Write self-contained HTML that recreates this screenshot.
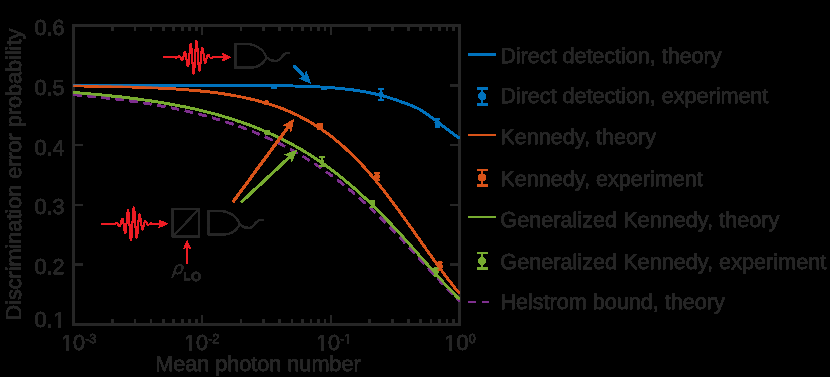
<!DOCTYPE html>
<html><head><meta charset="utf-8"><style>
html,body{margin:0;padding:0;background:#000;}
body{width:830px;height:377px;position:relative;overflow:hidden;}
svg{position:absolute;left:0;top:0;display:block;}
</style></head><body>
<svg width="830" height="377" viewBox="0 0 830 377">
<defs><filter id="thr" x="0" y="0" width="830" height="377" filterUnits="userSpaceOnUse" color-interpolation-filters="sRGB"><feComponentTransfer><feFuncA type="linear" slope="255" intercept="-47.17"/></feComponentTransfer></filter>
<filter id="thrc" x="0" y="0" width="830" height="377" filterUnits="userSpaceOnUse" color-interpolation-filters="sRGB"><feComponentTransfer><feFuncA type="linear" slope="255" intercept="-20.40"/></feComponentTransfer></filter>
<filter id="thrt" x="0" y="0" width="830" height="377" filterUnits="userSpaceOnUse" color-interpolation-filters="sRGB"><feComponentTransfer><feFuncA type="linear" slope="255" intercept="-38.25"/></feComponentTransfer></filter></defs>
<g filter="url(#thr)">
<rect x="72" y="24" width="3" height="302" fill="#262626" shape-rendering="crispEdges"/>
<rect x="458" y="24" width="3" height="302" fill="#262626" shape-rendering="crispEdges"/>
<rect x="72" y="24" width="389" height="3" fill="#262626" shape-rendering="crispEdges"/>
<rect x="72" y="323" width="389" height="3" fill="#262626" shape-rendering="crispEdges"/>
<path d="M112.23,324.5 v-5.5 M112.23,25.5 v5.5 M134.89,324.5 v-5.5 M134.89,25.5 v5.5 M150.97,324.5 v-5.5 M150.97,25.5 v5.5 M163.43,324.5 v-5.5 M163.43,25.5 v5.5 M173.62,324.5 v-5.5 M173.62,25.5 v5.5 M182.24,324.5 v-5.5 M182.24,25.5 v5.5 M189.70,324.5 v-5.5 M189.70,25.5 v5.5 M196.28,324.5 v-5.5 M196.28,25.5 v5.5 M202.17,324.5 v-9.5 M202.17,25.5 v9.5 M240.90,324.5 v-5.5 M240.90,25.5 v5.5 M263.56,324.5 v-5.5 M263.56,25.5 v5.5 M279.63,324.5 v-5.5 M279.63,25.5 v5.5 M292.10,324.5 v-5.5 M292.10,25.5 v5.5 M302.29,324.5 v-5.5 M302.29,25.5 v5.5 M310.90,324.5 v-5.5 M310.90,25.5 v5.5 M318.36,324.5 v-5.5 M318.36,25.5 v5.5 M324.95,324.5 v-5.5 M324.95,25.5 v5.5 M330.83,324.5 v-9.5 M330.83,25.5 v9.5 M369.57,324.5 v-5.5 M369.57,25.5 v5.5 M392.22,324.5 v-5.5 M392.22,25.5 v5.5 M408.30,324.5 v-5.5 M408.30,25.5 v5.5 M420.77,324.5 v-5.5 M420.77,25.5 v5.5 M430.96,324.5 v-5.5 M430.96,25.5 v5.5 M439.57,324.5 v-5.5 M439.57,25.5 v5.5 M447.03,324.5 v-5.5 M447.03,25.5 v5.5 M453.61,324.5 v-5.5 M453.61,25.5 v5.5 M73.5,264.70 h9.5 M459.5,264.70 h-9.5 M73.5,204.90 h9.5 M459.5,204.90 h-9.5 M73.5,145.10 h9.5 M459.5,145.10 h-9.5 M73.5,85.30 h9.5 M459.5,85.30 h-9.5" stroke="#262626" stroke-width="2" fill="none"/>
</g>
<g filter="url(#thrc)" fill="none" stroke-linejoin="round">
<path d="M73.50,85.30 L74.14,85.30 L74.79,85.30 L75.43,85.30 L76.08,85.30 L76.72,85.30 L77.37,85.30 L78.01,85.30 L78.66,85.30 L79.30,85.30 L79.94,85.30 L80.59,85.30 L81.23,85.30 L81.88,85.30 L82.52,85.30 L83.17,85.30 L83.81,85.30 L84.45,85.30 L85.10,85.30 L85.74,85.30 L86.39,85.30 L87.03,85.30 L87.68,85.30 L88.32,85.30 L88.97,85.30 L89.61,85.30 L90.25,85.30 L90.90,85.30 L91.54,85.30 L92.19,85.30 L92.83,85.30 L93.48,85.30 L94.12,85.30 L94.77,85.30 L95.41,85.30 L96.05,85.30 L96.70,85.30 L97.34,85.30 L97.99,85.30 L98.63,85.30 L99.28,85.30 L99.92,85.30 L100.57,85.30 L101.21,85.30 L101.85,85.30 L102.50,85.30 L103.14,85.30 L103.79,85.30 L104.43,85.30 L105.08,85.30 L105.72,85.30 L106.36,85.30 L107.01,85.30 L107.65,85.30 L108.30,85.30 L108.94,85.30 L109.59,85.30 L110.23,85.30 L110.88,85.30 L111.52,85.30 L112.16,85.30 L112.81,85.30 L113.45,85.30 L114.10,85.30 L114.74,85.30 L115.39,85.30 L116.03,85.30 L116.68,85.30 L117.32,85.30 L117.96,85.30 L118.61,85.30 L119.25,85.30 L119.90,85.30 L120.54,85.30 L121.19,85.30 L121.83,85.30 L122.47,85.30 L123.12,85.30 L123.76,85.30 L124.41,85.30 L125.05,85.30 L125.70,85.30 L126.34,85.30 L126.99,85.30 L127.63,85.30 L128.27,85.30 L128.92,85.30 L129.56,85.30 L130.21,85.30 L130.85,85.30 L131.50,85.30 L132.14,85.30 L132.79,85.30 L133.43,85.30 L134.07,85.30 L134.72,85.30 L135.36,85.30 L136.01,85.30 L136.65,85.30 L137.30,85.30 L137.94,85.30 L138.59,85.30 L139.23,85.30 L139.87,85.30 L140.52,85.30 L141.16,85.30 L141.81,85.30 L142.45,85.30 L143.10,85.30 L143.74,85.30 L144.38,85.30 L145.03,85.30 L145.67,85.30 L146.32,85.30 L146.96,85.30 L147.61,85.30 L148.25,85.30 L148.90,85.30 L149.54,85.30 L150.18,85.30 L150.83,85.30 L151.47,85.30 L152.12,85.30 L152.76,85.31 L153.41,85.31 L154.05,85.31 L154.70,85.31 L155.34,85.31 L155.98,85.31 L156.63,85.31 L157.27,85.31 L157.92,85.31 L158.56,85.31 L159.21,85.31 L159.85,85.31 L160.49,85.31 L161.14,85.31 L161.78,85.31 L162.43,85.31 L163.07,85.31 L163.72,85.31 L164.36,85.31 L165.01,85.31 L165.65,85.31 L166.29,85.31 L166.94,85.31 L167.58,85.31 L168.23,85.31 L168.87,85.31 L169.52,85.31 L170.16,85.31 L170.81,85.31 L171.45,85.31 L172.09,85.31 L172.74,85.31 L173.38,85.31 L174.03,85.31 L174.67,85.31 L175.32,85.31 L175.96,85.31 L176.61,85.31 L177.25,85.31 L177.89,85.31 L178.54,85.31 L179.18,85.31 L179.83,85.31 L180.47,85.31 L181.12,85.31 L181.76,85.31 L182.40,85.31 L183.05,85.31 L183.69,85.32 L184.34,85.32 L184.98,85.32 L185.63,85.32 L186.27,85.32 L186.92,85.32 L187.56,85.32 L188.20,85.32 L188.85,85.32 L189.49,85.32 L190.14,85.32 L190.78,85.32 L191.43,85.32 L192.07,85.32 L192.72,85.32 L193.36,85.32 L194.00,85.32 L194.65,85.32 L195.29,85.32 L195.94,85.32 L196.58,85.32 L197.23,85.32 L197.87,85.33 L198.52,85.33 L199.16,85.33 L199.80,85.33 L200.45,85.33 L201.09,85.33 L201.74,85.33 L202.38,85.33 L203.03,85.33 L203.67,85.33 L204.31,85.33 L204.96,85.33 L205.60,85.33 L206.25,85.33 L206.89,85.33 L207.54,85.34 L208.18,85.34 L208.83,85.34 L209.47,85.34 L210.11,85.34 L210.76,85.34 L211.40,85.34 L212.05,85.34 L212.69,85.34 L213.34,85.34 L213.98,85.34 L214.63,85.35 L215.27,85.35 L215.91,85.35 L216.56,85.35 L217.20,85.35 L217.85,85.35 L218.49,85.35 L219.14,85.35 L219.78,85.35 L220.42,85.36 L221.07,85.36 L221.71,85.36 L222.36,85.36 L223.00,85.36 L223.65,85.36 L224.29,85.36 L224.94,85.37 L225.58,85.37 L226.22,85.37 L226.87,85.37 L227.51,85.37 L228.16,85.37 L228.80,85.37 L229.45,85.38 L230.09,85.38 L230.74,85.38 L231.38,85.38 L232.02,85.38 L232.67,85.39 L233.31,85.39 L233.96,85.39 L234.60,85.39 L235.25,85.39 L235.89,85.40 L236.54,85.40 L237.18,85.40 L237.82,85.40 L238.47,85.40 L239.11,85.41 L239.76,85.41 L240.40,85.41 L241.05,85.41 L241.69,85.42 L242.33,85.42 L242.98,85.42 L243.62,85.43 L244.27,85.43 L244.91,85.43 L245.56,85.43 L246.20,85.44 L246.85,85.44 L247.49,85.44 L248.13,85.45 L248.78,85.45 L249.42,85.45 L250.07,85.46 L250.71,85.46 L251.36,85.46 L252.00,85.47 L252.65,85.47 L253.29,85.48 L253.93,85.48 L254.58,85.48 L255.22,85.49 L255.87,85.49 L256.51,85.50 L257.16,85.50 L257.80,85.50 L258.44,85.51 L259.09,85.51 L259.73,85.52 L260.38,85.52 L261.02,85.53 L261.67,85.53 L262.31,85.54 L262.96,85.54 L263.60,85.55 L264.24,85.56 L264.89,85.56 L265.53,85.57 L266.18,85.57 L266.82,85.58 L267.47,85.59 L268.11,85.59 L268.76,85.60 L269.40,85.61 L270.04,85.61 L270.69,85.62 L271.33,85.63 L271.98,85.63 L272.62,85.64 L273.27,85.65 L273.91,85.66 L274.56,85.66 L275.20,85.67 L275.84,85.68 L276.49,85.69 L277.13,85.70 L277.78,85.71 L278.42,85.72 L279.07,85.73 L279.71,85.73 L280.35,85.74 L281.00,85.75 L281.64,85.76 L282.29,85.77 L282.93,85.78 L283.58,85.80 L284.22,85.81 L284.87,85.82 L285.51,85.83 L286.15,85.84 L286.80,85.85 L287.44,85.86 L288.09,85.88 L288.73,85.89 L289.38,85.90 L290.02,85.92 L290.67,85.93 L291.31,85.94 L291.95,85.96 L292.60,85.97 L293.24,85.99 L293.89,86.00 L294.53,86.02 L295.18,86.03 L295.82,86.05 L296.46,86.06 L297.11,86.08 L297.75,86.10 L298.40,86.12 L299.04,86.13 L299.69,86.15 L300.33,86.17 L300.98,86.19 L301.62,86.21 L302.26,86.23 L302.91,86.25 L303.55,86.27 L304.20,86.29 L304.84,86.31 L305.49,86.33 L306.13,86.35 L306.78,86.38 L307.42,86.40 L308.06,86.42 L308.71,86.45 L309.35,86.47 L310.00,86.50 L310.64,86.52 L311.29,86.55 L311.93,86.58 L312.58,86.60 L313.22,86.63 L313.86,86.66 L314.51,86.69 L315.15,86.72 L315.80,86.75 L316.44,86.78 L317.09,86.81 L317.73,86.84 L318.37,86.87 L319.02,86.91 L319.66,86.94 L320.31,86.98 L320.95,87.01 L321.60,87.05 L322.24,87.08 L322.89,87.12 L323.53,87.16 L324.17,87.20 L324.82,87.24 L325.46,87.28 L326.11,87.32 L326.75,87.36 L327.40,87.40 L328.04,87.45 L328.69,87.49 L329.33,87.54 L329.97,87.58 L330.62,87.63 L331.26,87.68 L331.91,87.72 L332.55,87.77 L333.20,87.82 L333.84,87.88 L334.48,87.93 L335.13,87.98 L335.77,88.04 L336.42,88.09 L337.06,88.15 L337.71,88.21 L338.35,88.26 L339.00,88.32 L339.64,88.39 L340.28,88.45 L340.93,88.51 L341.57,88.57 L342.22,88.64 L342.86,88.71 L343.51,88.77 L344.15,88.84 L344.80,88.91 L345.44,88.98 L346.08,89.06 L346.73,89.13 L347.37,89.21 L348.02,89.28 L348.66,89.36 L349.31,89.44 L349.95,89.52 L350.60,89.60 L351.24,89.69 L351.88,89.77 L352.53,89.86 L353.17,89.95 L353.82,90.04 L354.46,90.13 L355.11,90.22 L355.75,90.31 L356.39,90.41 L357.04,90.50 L357.68,90.60 L358.33,90.70 L358.97,90.81 L359.62,90.91 L360.26,91.01 L360.91,91.12 L361.55,91.23 L362.19,91.34 L362.84,91.45 L363.48,91.57 L364.13,91.68 L364.77,91.80 L365.42,91.92 L366.06,92.04 L366.71,92.16 L367.35,92.29 L367.99,92.42 L368.64,92.54 L369.28,92.67 L369.93,92.81 L370.57,92.94 L371.22,93.08 L371.86,93.22 L372.51,93.36 L373.15,93.50 L373.79,93.64 L374.44,93.79 L375.08,93.94 L375.73,94.09 L376.37,94.24 L377.02,94.40 L377.66,94.55 L378.30,94.71 L378.95,94.87 L379.59,95.04 L380.24,95.20 L380.88,95.37 L381.53,95.54 L382.17,95.71 L382.82,95.89 L383.46,96.06 L384.10,96.24 L384.75,96.42 L385.39,96.60 L386.04,96.79 L386.68,96.98 L387.33,97.17 L387.97,97.36 L388.62,97.55 L389.26,97.75 L389.90,97.94 L390.55,98.14 L391.19,98.35 L391.84,98.55 L392.48,98.76 L393.13,98.97 L393.77,99.18 L394.41,99.39 L395.06,99.61 L395.70,99.82 L396.35,100.04 L396.99,100.26 L397.64,100.49 L398.28,100.71 L398.93,100.94 L399.57,101.17 L400.21,101.40 L400.86,101.63 L401.50,101.87 L402.15,102.10 L402.79,102.34 L403.44,102.58 L404.08,102.83 L404.73,103.07 L405.37,103.31 L406.01,103.56 L406.66,103.81 L407.30,104.06 L407.95,104.31 L408.59,104.57 L409.24,104.82 L409.88,105.08 L410.53,105.33 L411.17,105.59 L411.81,105.85 L412.46,106.11 L413.10,106.37 L413.75,106.63 L414.39,106.90 L415.04,107.16 L415.68,107.43 L416.32,107.69 L416.97,107.96 L417.61,108.22 L418.26,108.51 L418.90,108.90 L419.55,109.29 L420.19,109.69 L420.84,110.10 L421.48,110.50 L422.12,110.91 L422.77,111.33 L423.41,111.75 L424.06,112.17 L424.70,112.60 L425.35,113.03 L425.99,113.46 L426.64,113.90 L427.28,114.34 L427.92,114.79 L428.57,115.24 L429.21,115.69 L429.86,116.15 L430.50,116.61 L431.15,117.07 L431.79,117.54 L432.43,118.01 L433.08,118.48 L433.72,118.96 L434.37,119.43 L435.01,119.91 L435.66,120.40 L436.30,120.88 L436.95,121.37 L437.59,121.86 L438.23,122.35 L438.88,122.84 L439.52,123.33 L440.17,123.83 L440.81,124.33 L441.46,124.82 L442.10,125.32 L442.75,125.82 L443.39,126.32 L444.03,126.82 L444.68,127.32 L445.32,127.81 L445.97,128.31 L446.61,128.81 L447.26,129.31 L447.90,129.80 L448.55,130.29 L449.19,130.79 L449.83,131.27 L450.48,131.76 L451.12,132.25 L451.77,132.73 L452.41,133.21 L453.06,133.68 L453.70,134.15 L454.34,134.62 L454.99,135.08 L455.63,135.54 L456.28,135.99 L456.92,136.44 L457.57,136.88 L458.21,137.32 L458.86,137.75 L459.50,138.17" stroke="#0072BD" stroke-width="2.2"/>
<path d="M73.50,85.90 L75.12,85.91 L76.73,85.93 L78.35,85.95 L79.96,85.97 L81.58,85.99 L83.19,86.01 L84.81,86.03 L86.42,86.05 L88.04,86.07 L89.65,86.10 L91.27,86.12 L92.88,86.14 L94.50,86.17 L96.11,86.19 L97.73,86.22 L99.34,86.25 L100.96,86.27 L102.57,86.30 L104.19,86.33 L105.80,86.36 L107.42,86.39 L109.03,86.43 L110.65,86.46 L112.26,86.49 L113.88,86.53 L115.49,86.56 L117.11,86.60 L118.72,86.64 L120.34,86.68 L121.95,86.72 L123.57,86.76 L125.18,86.80 L126.80,86.85 L128.41,86.89 L130.03,86.94 L131.64,86.98 L133.26,87.03 L134.87,87.08 L136.49,87.14 L138.10,87.19 L139.72,87.24 L141.33,87.30 L142.95,87.36 L144.56,87.42 L146.18,87.48 L147.79,87.55 L149.41,87.61 L151.02,87.68 L152.64,87.75 L154.25,87.82 L155.87,87.89 L157.48,87.97 L159.10,88.04 L160.71,88.12 L162.33,88.21 L163.94,88.29 L165.56,88.38 L167.17,88.47 L168.79,88.56 L170.40,88.65 L172.02,88.75 L173.63,88.85 L175.25,88.95 L176.86,89.06 L178.48,89.17 L180.09,89.28 L181.71,89.40 L183.32,89.52 L184.94,89.64 L186.55,89.76 L188.17,89.89 L189.78,90.03 L191.40,90.16 L193.01,90.30 L194.63,90.45 L196.24,90.60 L197.86,90.75 L199.47,90.91 L201.09,91.07 L202.71,91.23 L204.32,91.40 L205.94,91.58 L207.55,91.76 L209.17,91.95 L210.78,92.14 L212.40,92.33 L214.01,92.54 L215.63,92.74 L217.24,92.96 L218.86,93.18 L220.47,93.40 L222.09,93.63 L223.70,93.87 L225.32,94.12 L226.93,94.37 L228.55,94.63 L230.16,94.89 L231.78,95.16 L233.39,95.45 L235.01,95.73 L236.62,96.03 L238.24,96.33 L239.85,96.65 L241.47,96.97 L243.08,97.30 L244.70,97.64 L246.31,97.99 L247.93,98.34 L249.54,98.71 L251.16,99.09 L252.77,99.48 L254.39,99.87 L256.00,100.28 L257.62,100.70 L259.23,101.13 L260.85,101.57 L262.46,102.03 L264.08,102.49 L265.69,102.97 L267.31,103.46 L268.92,103.97 L270.54,104.48 L272.15,105.01 L273.77,105.55 L275.38,106.11 L277.00,106.68 L278.61,107.27 L280.23,107.87 L281.84,108.49 L283.46,109.12 L285.07,109.77 L286.69,110.43 L288.30,111.11 L289.92,111.81 L291.53,112.53 L293.15,113.26 L294.76,114.01 L296.38,114.78 L297.99,115.56 L299.61,116.37 L301.22,117.19 L302.84,118.04 L304.45,118.90 L306.07,119.79 L307.68,120.69 L309.30,121.62 L310.91,122.56 L312.53,123.53 L314.14,124.52 L315.76,125.53 L317.37,126.57 L318.99,127.63 L320.60,128.71 L322.22,129.81 L323.83,130.94 L325.45,132.09 L327.06,133.26 L328.68,134.46 L330.29,135.69 L331.91,136.94 L333.53,138.21 L335.14,139.51 L336.76,140.84 L338.37,142.19 L339.99,143.56 L341.60,144.97 L343.22,146.39 L344.83,147.85 L346.45,149.33 L348.06,150.84 L349.68,152.37 L351.29,153.93 L352.91,155.51 L354.52,157.13 L356.14,158.76 L357.75,160.43 L359.37,162.12 L360.98,163.84 L362.60,165.58 L364.21,167.35 L365.83,169.14 L367.44,170.96 L369.06,172.80 L370.67,174.67 L372.29,176.56 L373.90,178.47 L375.52,180.41 L377.13,182.37 L378.75,184.35 L380.36,186.36 L381.98,188.39 L383.59,190.43 L385.21,192.50 L386.82,194.59 L388.44,196.69 L390.05,198.82 L391.67,200.96 L393.28,203.11 L394.90,205.29 L396.51,207.48 L398.13,209.68 L399.74,211.89 L401.36,214.12 L402.97,216.36 L404.59,218.61 L406.20,220.86 L407.82,223.13 L409.43,225.40 L411.05,227.68 L412.66,229.97 L414.28,232.26 L415.89,234.55 L417.51,236.84 L419.12,239.14 L420.74,241.43 L422.35,243.72 L423.97,246.01 L425.58,248.30 L427.20,250.58 L428.81,252.86 L430.43,255.12 L432.04,257.39 L433.66,259.64 L435.27,261.88 L436.89,264.11 L438.50,266.33 L440.12,268.53 L441.73,270.72 L443.35,272.90 L444.96,275.06 L446.58,277.20 L448.19,279.32 L449.81,281.43 L451.42,283.51 L453.04,285.58 L454.65,287.62 L456.27,289.65 L457.88,291.65 L459.50,293.62" stroke="#D95319" stroke-width="2.2"/>
<path d="M73.50,94.75 L75.12,94.89 L76.73,95.03 L78.35,95.17 L79.96,95.31 L81.58,95.46 L83.19,95.60 L84.81,95.75 L86.42,95.90 L88.04,96.06 L89.65,96.21 L91.27,96.37 L92.88,96.53 L94.50,96.70 L96.11,96.86 L97.73,97.03 L99.34,97.20 L100.96,97.37 L102.57,97.55 L104.19,97.73 L105.80,97.91 L107.42,98.09 L109.03,98.28 L110.65,98.46 L112.26,98.66 L113.88,98.85 L115.49,99.05 L117.11,99.25 L118.72,99.45 L120.34,99.65 L121.95,99.86 L123.57,100.07 L125.18,100.29 L126.80,100.50 L128.41,100.73 L130.03,100.95 L131.64,101.18 L133.26,101.41 L134.87,101.64 L136.49,101.88 L138.10,102.12 L139.72,102.36 L141.33,102.61 L142.95,102.86 L144.56,103.11 L146.18,103.37 L147.79,103.63 L149.41,103.90 L151.02,104.17 L152.64,104.44 L154.25,104.72 L155.87,105.00 L157.48,105.28 L159.10,105.57 L160.71,105.87 L162.33,106.16 L163.94,106.46 L165.56,106.77 L167.17,107.08 L168.79,107.40 L170.40,107.71 L172.02,108.04 L173.63,108.37 L175.25,108.70 L176.86,109.04 L178.48,109.38 L180.09,109.73 L181.71,110.08 L183.32,110.44 L184.94,110.80 L186.55,111.17 L188.17,111.54 L189.78,111.92 L191.40,112.30 L193.01,112.69 L194.63,113.08 L196.24,113.48 L197.86,113.89 L199.47,114.30 L201.09,114.72 L202.71,115.14 L204.32,115.57 L205.94,116.00 L207.55,116.45 L209.17,116.89 L210.78,117.35 L212.40,117.80 L214.01,118.27 L215.63,118.74 L217.24,119.22 L218.86,119.71 L220.47,120.20 L222.09,120.70 L223.70,121.21 L225.32,121.72 L226.93,122.24 L228.55,122.77 L230.16,123.30 L231.78,123.84 L233.39,124.39 L235.01,124.95 L236.62,125.51 L238.24,126.08 L239.85,126.66 L241.47,127.25 L243.08,127.85 L244.70,128.45 L246.31,129.06 L247.93,129.69 L249.54,130.31 L251.16,130.95 L252.77,131.60 L254.39,132.25 L256.00,132.91 L257.62,133.59 L259.23,134.27 L260.85,134.96 L262.46,135.66 L264.08,136.37 L265.69,137.08 L267.31,137.81 L268.92,138.55 L270.54,139.29 L272.15,140.05 L273.77,140.82 L275.38,141.59 L277.00,142.38 L278.61,143.18 L280.23,143.98 L281.84,144.80 L283.46,145.63 L285.07,146.46 L286.69,147.31 L288.30,148.17 L289.92,149.04 L291.53,149.92 L293.15,150.82 L294.76,151.72 L296.38,152.64 L297.99,153.56 L299.61,154.50 L301.22,155.45 L302.84,156.41 L304.45,157.38 L306.07,158.37 L307.68,159.36 L309.30,160.37 L310.91,161.39 L312.53,162.43 L314.14,163.47 L315.76,164.53 L317.37,165.60 L318.99,166.68 L320.60,167.78 L322.22,168.89 L323.83,170.01 L325.45,171.14 L327.06,172.29 L328.68,173.45 L330.29,174.62 L331.91,175.81 L333.53,177.00 L335.14,178.22 L336.76,179.44 L338.37,180.68 L339.99,181.93 L341.60,183.20 L343.22,184.48 L344.83,185.77 L346.45,187.07 L348.06,188.39 L349.68,189.73 L351.29,191.07 L352.91,192.43 L354.52,193.80 L356.14,195.19 L357.75,196.59 L359.37,198.00 L360.98,199.43 L362.60,200.87 L364.21,202.32 L365.83,203.78 L367.44,205.26 L369.06,206.75 L370.67,208.26 L372.29,209.77 L373.90,211.30 L375.52,212.84 L377.13,214.40 L378.75,215.96 L380.36,217.54 L381.98,219.12 L383.59,220.72 L385.21,222.34 L386.82,223.96 L388.44,225.59 L390.05,227.23 L391.67,228.88 L393.28,230.54 L394.90,232.22 L396.51,233.90 L398.13,235.59 L399.74,237.28 L401.36,238.99 L402.97,240.70 L404.59,242.42 L406.20,244.15 L407.82,245.88 L409.43,247.62 L411.05,249.36 L412.66,251.11 L414.28,252.86 L415.89,254.61 L417.51,256.37 L419.12,258.14 L420.74,259.90 L422.35,261.66 L423.97,263.43 L425.58,265.20 L427.20,266.96 L428.81,268.73 L430.43,270.49 L432.04,272.25 L433.66,274.01 L435.27,275.76 L436.89,277.51 L438.50,279.26 L440.12,281.00 L441.73,282.73 L443.35,284.46 L444.96,286.18 L446.58,287.89 L448.19,289.59 L449.81,291.29 L451.42,292.97 L453.04,294.65 L454.65,296.31 L456.27,297.96 L457.88,299.60 L459.50,301.23" stroke="#7E2F8E" stroke-width="2.1" stroke-dasharray="8 6.08"/>
<path d="M73.50,92.60 L75.12,92.72 L76.73,92.84 L78.35,92.97 L79.96,93.09 L81.58,93.22 L83.19,93.35 L84.81,93.48 L86.42,93.61 L88.04,93.75 L89.65,93.89 L91.27,94.03 L92.88,94.17 L94.50,94.31 L96.11,94.46 L97.73,94.61 L99.34,94.76 L100.96,94.91 L102.57,95.06 L104.19,95.22 L105.80,95.38 L107.42,95.54 L109.03,95.71 L110.65,95.87 L112.26,96.04 L113.88,96.21 L115.49,96.39 L117.11,96.57 L118.72,96.74 L120.34,96.93 L121.95,97.11 L123.57,97.30 L125.18,97.49 L126.80,97.68 L128.41,97.88 L130.03,98.08 L131.64,98.28 L133.26,98.48 L134.87,98.69 L136.49,98.90 L138.10,99.12 L139.72,99.34 L141.33,99.56 L142.95,99.78 L144.56,100.01 L146.18,100.24 L147.79,100.47 L149.41,100.71 L151.02,100.95 L152.64,101.20 L154.25,101.45 L155.87,101.70 L157.48,101.96 L159.10,102.22 L160.71,102.48 L162.33,102.75 L163.94,103.02 L165.56,103.29 L167.17,103.58 L168.79,103.86 L170.40,104.15 L172.02,104.44 L173.63,104.74 L175.25,105.04 L176.86,105.35 L178.48,105.66 L180.09,105.97 L181.71,106.29 L183.32,106.62 L184.94,106.95 L186.55,107.28 L188.17,107.62 L189.78,107.97 L191.40,108.32 L193.01,108.67 L194.63,109.03 L196.24,109.40 L197.86,109.77 L199.47,110.15 L201.09,110.53 L202.71,110.92 L204.32,111.31 L205.94,111.71 L207.55,112.12 L209.17,112.53 L210.78,112.95 L212.40,113.38 L214.01,113.81 L215.63,114.25 L217.24,114.69 L218.86,115.14 L220.47,115.60 L222.09,116.06 L223.70,116.53 L225.32,117.01 L226.93,117.50 L228.55,117.99 L230.16,118.49 L231.78,119.00 L233.39,119.51 L235.01,120.04 L236.62,120.57 L238.24,121.10 L239.85,121.65 L241.47,122.21 L243.08,122.77 L244.70,123.34 L246.31,123.92 L247.93,124.51 L249.54,125.10 L251.16,125.71 L252.77,126.32 L254.39,126.95 L256.00,127.58 L257.62,128.22 L259.23,128.87 L260.85,129.53 L262.46,130.21 L264.08,130.89 L265.69,131.58 L267.31,132.28 L268.92,132.99 L270.54,133.71 L272.15,134.44 L273.77,135.18 L275.38,135.93 L277.00,136.70 L278.61,137.47 L280.23,138.26 L281.84,139.05 L283.46,139.86 L285.07,140.68 L286.69,141.51 L288.30,142.36 L289.92,143.21 L291.53,144.08 L293.15,144.96 L294.76,145.85 L296.38,146.75 L297.99,147.67 L299.61,148.60 L301.22,149.54 L302.84,150.49 L304.45,151.46 L306.07,152.44 L307.68,153.43 L309.30,154.44 L310.91,155.46 L312.53,156.50 L314.14,157.54 L315.76,158.61 L317.37,159.68 L318.99,160.77 L320.60,161.88 L322.22,162.99 L323.83,164.13 L325.45,165.27 L327.06,166.44 L328.68,167.61 L330.29,168.80 L331.91,170.01 L333.53,171.23 L335.14,172.46 L336.76,173.71 L338.37,174.98 L339.99,176.26 L341.60,177.55 L343.22,178.86 L344.83,180.19 L346.45,181.53 L348.06,182.88 L349.68,184.25 L351.29,185.64 L352.91,187.04 L354.52,188.45 L356.14,189.88 L357.75,191.32 L359.37,192.78 L360.98,194.26 L362.60,195.74 L364.21,197.25 L365.83,198.76 L367.44,200.30 L369.06,201.84 L370.67,203.40 L372.29,204.97 L373.90,206.56 L375.52,208.16 L377.13,209.77 L378.75,211.39 L380.36,213.03 L381.98,214.68 L383.59,216.35 L385.21,218.02 L386.82,219.70 L388.44,221.40 L390.05,223.11 L391.67,224.83 L393.28,226.55 L394.90,228.29 L396.51,230.04 L398.13,231.79 L399.74,233.56 L401.36,235.33 L402.97,237.11 L404.59,238.90 L406.20,240.69 L407.82,242.49 L409.43,244.29 L411.05,246.10 L412.66,247.92 L414.28,249.73 L415.89,251.55 L417.51,253.38 L419.12,255.20 L420.74,257.03 L422.35,258.86 L423.97,260.68 L425.58,262.51 L427.20,264.33 L428.81,266.16 L430.43,267.98 L432.04,269.80 L433.66,271.61 L435.27,273.42 L436.89,275.23 L438.50,277.03 L440.12,278.82 L441.73,280.60 L443.35,282.38 L444.96,284.15 L446.58,285.91 L448.19,287.66 L449.81,289.40 L451.42,291.13 L453.04,292.84 L454.65,294.55 L456.27,296.24 L457.88,297.91 L459.50,299.58" stroke="#77AC30" stroke-width="2.2"/>
</g>
<g filter="url(#thr)">
<g stroke="#0072BD" stroke-width="1.5" fill="#0072BD"><path d="M274,85.3 V87.7 M271.5,85.3 h5 M271.5,87.7 h5" fill="none"/><circle cx="274" cy="86.5" r="2.1" stroke="none"/></g>
<g stroke="#0072BD" stroke-width="1.5" fill="#0072BD"><path d="M324,86.8 V89.2 M321.5,86.8 h5 M321.5,89.2 h5" fill="none"/><circle cx="324" cy="88" r="2.1" stroke="none"/></g>
<g stroke="#0072BD" stroke-width="1.5" fill="#0072BD"><path d="M381,88.8 V99.7 M378.5,88.8 h5 M378.5,99.7 h5" fill="none"/><circle cx="381" cy="94.3" r="2.1" stroke="none"/></g>
<g stroke="#0072BD" stroke-width="1.5" fill="#0072BD"><path d="M437.4,119 V126.6 M434.9,119 h5 M434.9,126.6 h5" fill="none"/><circle cx="437.4" cy="122.7" r="2.6" stroke="none"/></g>
<g stroke="#D95319" stroke-width="1.5" fill="#D95319"><path d="M266.5,101.7 V103.8 M264.0,101.7 h5 M264.0,103.8 h5" fill="none"/><circle cx="266.5" cy="102.7" r="2.2" stroke="none"/></g>
<g stroke="#D95319" stroke-width="1.5" fill="#D95319"><path d="M320,124 V129 M317.5,124 h5 M317.5,129 h5" fill="none"/><circle cx="320" cy="126.5" r="2.7" stroke="none"/></g>
<g stroke="#D95319" stroke-width="1.5" fill="#D95319"><path d="M377,172.7 V180.3 M374.5,172.7 h5 M374.5,180.3 h5" fill="none"/><circle cx="377" cy="176.5" r="2.7" stroke="none"/></g>
<g stroke="#D95319" stroke-width="1.5" fill="#D95319"><path d="M440,262.6 V269.8 M437.5,262.6 h5 M437.5,269.8 h5" fill="none"/><circle cx="440" cy="266.2" r="2.7" stroke="none"/></g>
<g stroke="#77AC30" stroke-width="1.5" fill="#77AC30"><path d="M267,131.2 V133.4 M264.5,131.2 h5 M264.5,133.4 h5" fill="none"/><polygon stroke="none" points="267,129.825 268.9,131.535 268.9,132.86499999999998 267,134.575 265.1,132.86499999999998 265.1,131.535"/></g>
<g stroke="#77AC30" stroke-width="1.5" fill="#77AC30"><path d="M322,157 V166 M319.5,157 h5 M319.5,166 h5" fill="none"/><polygon stroke="none" points="322,158.875 324.1,160.765 324.1,162.235 322,164.125 319.9,162.235 319.9,160.765"/></g>
<g stroke="#77AC30" stroke-width="1.5" fill="#77AC30"><path d="M372.6,201.4 V207 M370.1,201.4 h5 M370.1,207 h5" fill="none"/><polygon stroke="none" points="372.6,201.575 374.70000000000005,203.46499999999997 374.70000000000005,204.935 372.6,206.825 370.5,204.935 370.5,203.46499999999997"/></g>
<g stroke="#77AC30" stroke-width="1.5" fill="#77AC30"><path d="M436.2,268.5 V275.5 M433.7,268.5 h5 M433.7,275.5 h5" fill="none"/><polygon stroke="none" points="436.2,269.375 438.3,271.265 438.3,272.735 436.2,274.625 434.09999999999997,272.735 434.09999999999997,271.265"/></g>
<line x1="293.60" y1="65.80" x2="304.61" y2="77.06" stroke="#0072BD" stroke-width="2.7"/><polygon fill="#0072BD" points="310.90,83.50 298.30,78.34 304.61,77.06 306.02,70.79"/>
<line x1="233.00" y1="201.90" x2="288.66" y2="126.35" stroke="#D95319" stroke-width="2.7"/><polygon fill="#D95319" points="294.00,119.10 290.93,132.37 288.66,126.35 282.24,125.96"/>
<line x1="241.20" y1="202.30" x2="290.33" y2="156.25" stroke="#77AC30" stroke-width="2.7"/><polygon fill="#77AC30" points="296.90,150.10 291.47,162.59 290.33,156.25 284.09,154.71"/>
<path d="M162.9,57.2 L171.20,57.21 L171.45,57.20 L171.70,57.19 L171.95,57.18 L172.20,57.17 L172.45,57.15 L172.70,57.13 L172.95,57.12 L173.20,57.11 L173.45,57.11 L173.70,57.11 L173.95,57.13 L174.20,57.16 L174.45,57.19 L174.70,57.24 L174.95,57.29 L175.20,57.35 L175.45,57.41 L175.70,57.46 L175.95,57.51 L176.20,57.53 L176.45,57.53 L176.70,57.50 L176.95,57.43 L177.20,57.33 L177.45,57.19 L177.70,57.03 L177.95,56.85 L178.20,56.66 L178.45,56.49 L178.70,56.34 L178.95,56.23 L179.20,56.20 L179.45,56.24 L179.70,56.37 L179.95,56.60 L180.20,56.92 L180.45,57.32 L180.70,57.78 L180.95,58.27 L181.20,58.75 L181.45,59.18 L181.70,59.51 L181.95,59.70 L182.20,59.72 L182.45,59.52 L182.70,59.11 L182.95,58.48 L183.20,57.65 L183.45,56.68 L183.70,55.61 L183.95,54.53 L184.20,53.53 L184.45,52.70 L184.70,52.12 L184.95,51.88 L185.20,52.04 L185.45,52.62 L185.70,53.63 L185.95,55.03 L186.20,56.75 L186.45,58.68 L186.70,60.68 L186.95,62.61 L187.20,64.30 L187.45,65.59 L187.70,66.34 L187.95,66.45 L188.20,65.87 L188.45,64.57 L188.70,62.62 L188.95,60.11 L189.20,57.20 L189.45,54.10 L189.70,51.03 L189.95,48.24 L190.20,45.96 L190.45,44.40 L190.70,43.71 L190.95,43.99 L191.20,45.28 L191.45,47.50 L191.70,50.53 L191.95,54.18 L192.20,58.18 L192.45,62.23 L192.70,66.05 L192.95,69.31 L193.20,71.77 L193.45,73.22 L193.70,73.52 L193.95,72.64 L194.20,70.62 L194.45,67.61 L194.70,63.82 L194.95,59.52 L195.20,55.05 L195.45,50.73 L195.70,46.89 L195.95,43.82 L196.20,41.73 L196.45,40.78 L196.70,41.01 L196.95,42.41 L197.20,44.84 L197.45,48.10 L197.70,51.93 L197.95,56.04 L198.20,60.11 L198.45,63.85 L198.70,66.98 L198.95,69.29 L199.20,70.66 L199.45,71.01 L199.70,70.36 L199.95,68.80 L200.20,66.50 L200.45,63.66 L200.70,60.52 L200.95,57.33 L201.20,54.31 L201.45,51.69 L201.70,49.64 L201.95,48.26 L202.20,47.61 L202.45,47.69 L202.70,48.43 L202.95,49.75 L203.20,51.48 L203.45,53.48 L203.70,55.57 L203.95,57.59 L204.20,59.40 L204.45,60.89 L204.70,61.98 L204.95,62.61 L205.20,62.80 L205.45,62.57 L205.70,61.99 L205.95,61.12 L206.20,60.07 L206.45,58.93 L206.70,57.80 L206.95,56.76 L207.20,55.87 L207.45,55.19 L207.70,54.73 L207.95,54.52 L208.20,54.52 L208.45,54.71 L208.70,55.06 L208.95,55.51 L209.20,56.03 L209.45,56.55 L209.70,57.05 L209.95,57.49 L210.20,57.84 L210.45,58.09 L210.70,58.24 L210.95,58.29 L211.20,58.25 L211.45,58.14 L211.70,57.98 L211.95,57.79 L212.20,57.59 L212.45,57.39 L212.70,57.21 L212.95,57.06 L213.20,56.95 L213.45,56.88 L213.70,56.84 L213.95,56.84 L214.20,56.86 L214.45,56.91 L214.70,56.96 L214.95,57.03 L215.20,57.10 L215.45,57.16 L215.70,57.21 L215.95,57.25 L216.20,57.28 L216.45,57.30 L216.70,57.30 L216.95,57.30 L217.20,57.29 L217.45,57.27 L217.70,57.26 L217.95,57.24 L218.20,57.22 L218.45,57.21 L218.70,57.20 L218.95,57.19 L219.20,57.18 L225,57.2" fill="none" stroke="#ED1C24" stroke-width="1.5" stroke-linejoin="round"/><polygon fill="#ED1C24" points="231.3,57.2 221.8,53.0 223.6,57.2 221.8,61.400000000000006"/>
<path d="M101,223.8 L108.50,223.81 L108.75,223.80 L109.00,223.79 L109.25,223.78 L109.50,223.77 L109.75,223.75 L110.00,223.73 L110.25,223.72 L110.50,223.71 L110.75,223.71 L111.00,223.71 L111.25,223.73 L111.50,223.76 L111.75,223.79 L112.00,223.84 L112.25,223.89 L112.50,223.95 L112.75,224.01 L113.00,224.06 L113.25,224.11 L113.50,224.13 L113.75,224.13 L114.00,224.10 L114.25,224.03 L114.50,223.93 L114.75,223.79 L115.00,223.63 L115.25,223.45 L115.50,223.26 L115.75,223.09 L116.00,222.94 L116.25,222.83 L116.50,222.80 L116.75,222.84 L117.00,222.97 L117.25,223.20 L117.50,223.52 L117.75,223.92 L118.00,224.38 L118.25,224.87 L118.50,225.35 L118.75,225.78 L119.00,226.11 L119.25,226.30 L119.50,226.32 L119.75,226.12 L120.00,225.71 L120.25,225.08 L120.50,224.25 L120.75,223.28 L121.00,222.21 L121.25,221.13 L121.50,220.13 L121.75,219.30 L122.00,218.72 L122.25,218.48 L122.50,218.64 L122.75,219.22 L123.00,220.23 L123.25,221.63 L123.50,223.35 L123.75,225.28 L124.00,227.28 L124.25,229.21 L124.50,230.90 L124.75,232.19 L125.00,232.94 L125.25,233.05 L125.50,232.47 L125.75,231.17 L126.00,229.22 L126.25,226.71 L126.50,223.80 L126.75,220.70 L127.00,217.63 L127.25,214.84 L127.50,212.56 L127.75,211.00 L128.00,210.31 L128.25,210.59 L128.50,211.88 L128.75,214.10 L129.00,217.13 L129.25,220.78 L129.50,224.78 L129.75,228.83 L130.00,232.65 L130.25,235.91 L130.50,238.37 L130.75,239.82 L131.00,240.12 L131.25,239.24 L131.50,237.22 L131.75,234.21 L132.00,230.42 L132.25,226.12 L132.50,221.65 L132.75,217.33 L133.00,213.49 L133.25,210.42 L133.50,208.33 L133.75,207.38 L134.00,207.61 L134.25,209.01 L134.50,211.44 L134.75,214.70 L135.00,218.53 L135.25,222.64 L135.50,226.71 L135.75,230.45 L136.00,233.58 L136.25,235.89 L136.50,237.26 L136.75,237.61 L137.00,236.96 L137.25,235.40 L137.50,233.10 L137.75,230.26 L138.00,227.12 L138.25,223.93 L138.50,220.91 L138.75,218.29 L139.00,216.24 L139.25,214.86 L139.50,214.21 L139.75,214.29 L140.00,215.03 L140.25,216.35 L140.50,218.08 L140.75,220.08 L141.00,222.17 L141.25,224.19 L141.50,226.00 L141.75,227.49 L142.00,228.58 L142.25,229.21 L142.50,229.40 L142.75,229.17 L143.00,228.59 L143.25,227.72 L143.50,226.67 L143.75,225.53 L144.00,224.40 L144.25,223.36 L144.50,222.47 L144.75,221.79 L145.00,221.33 L145.25,221.12 L145.50,221.12 L145.75,221.31 L146.00,221.66 L146.25,222.11 L146.50,222.63 L146.75,223.15 L147.00,223.65 L147.25,224.09 L147.50,224.44 L147.75,224.69 L148.00,224.84 L148.25,224.89 L148.50,224.85 L148.75,224.74 L149.00,224.58 L149.25,224.39 L149.50,224.19 L149.75,223.99 L150.00,223.81 L150.25,223.66 L150.50,223.55 L150.75,223.48 L151.00,223.44 L151.25,223.44 L151.50,223.46 L151.75,223.51 L152.00,223.56 L152.25,223.63 L152.50,223.70 L152.75,223.76 L153.00,223.81 L153.25,223.85 L153.50,223.88 L153.75,223.90 L154.00,223.90 L154.25,223.90 L154.50,223.89 L154.75,223.87 L155.00,223.86 L155.25,223.84 L155.50,223.82 L155.75,223.81 L156.00,223.80 L156.25,223.79 L156.50,223.78 L161.7,223.8" fill="none" stroke="#ED1C24" stroke-width="1.5" stroke-linejoin="round"/><polygon fill="#ED1C24" points="168.0,223.8 158.5,219.60000000000002 160.29999999999998,223.8 158.5,228.0"/>
<path d="M235.3,43.95 H244.3 C255.3,43.95 262.8,47.85 266.6,57.35 C263.8,63.15 258.3,67.75 249.3,67.75 H235.3 Z M266.6,57.35 C269.3,59.65 272.3,61.050000000000004 275.6,61.050000000000004 C281.3,61.050000000000004 282.3,53.15 286.6,53.15 H290.1" fill="none" stroke="#262626" stroke-width="1.8" stroke-linejoin="round"/>
<path d="M208.5,210.9 H217.5 C228.5,210.9 236.0,214.8 239.8,224.3 C237.0,230.10000000000002 231.5,234.70000000000002 222.5,234.70000000000002 H208.5 Z M239.8,224.3 C242.5,226.60000000000002 245.5,228.0 248.8,228.0 C254.5,228.0 255.5,220.10000000000002 259.8,220.10000000000002 H263.3" fill="none" stroke="#262626" stroke-width="1.8" stroke-linejoin="round"/>
<path d="M172.6,209.2 H198.9 V236.6 H172.6 Z M172.6,236.6 L198.9,209.2" fill="none" stroke="#262626" stroke-width="1.75"/>
<line x1="187.1" y1="263.5" x2="187.1" y2="247" stroke="#ED1C24" stroke-width="1.5"/>
<polygon fill="#ED1C24" points="187.1,240.3 191,249 187.1,247 183.2,249"/>
<rect x="468" y="53" width="28" height="3" fill="#0072BD" shape-rendering="crispEdges"/>
<rect x="468" y="134" width="28" height="2" fill="#D95319" shape-rendering="crispEdges"/>
<rect x="468" y="216" width="28" height="2" fill="#77AC30" shape-rendering="crispEdges"/>
<rect x="468" y="301" width="8" height="2" fill="#7E2F8E" shape-rendering="crispEdges"/>
<rect x="482" y="301" width="7" height="2" fill="#7E2F8E" shape-rendering="crispEdges"/>
<rect x="477" y="87" width="11" height="3" fill="#0072BD" shape-rendering="crispEdges"/><rect x="477" y="103" width="11" height="3" fill="#0072BD" shape-rendering="crispEdges"/><rect x="481" y="87" width="2" height="16" fill="#0072BD" shape-rendering="crispEdges"/><circle cx="482.05" cy="96.3" r="3.75" fill="#0072BD"/>
<rect x="477" y="169" width="11" height="2" fill="#D95319" shape-rendering="crispEdges"/><rect x="477" y="184" width="11" height="3" fill="#D95319" shape-rendering="crispEdges"/><rect x="481" y="169" width="2" height="15" fill="#D95319" shape-rendering="crispEdges"/><polygon fill="#D95319" points="482.05,173.2 485.85,175.3 485.85,179.7 482.05,181.8 478.25,179.7 478.25,175.3"/>
<rect x="477" y="252" width="11" height="2" fill="#77AC30" shape-rendering="crispEdges"/><rect x="477" y="267" width="11" height="3" fill="#77AC30" shape-rendering="crispEdges"/><rect x="481" y="252" width="2" height="15" fill="#77AC30" shape-rendering="crispEdges"/><polygon fill="#77AC30" points="482.05,255.5 485.85,259.4 485.85,262.0 482.05,265.9 478.25,262.0 478.25,259.4"/>
</g>
<g filter="url(#thrt)" fill="#262626" stroke="#262626" stroke-width="0.25" font-family="Liberation Sans, sans-serif" text-rendering="geometricPrecision">
<text transform="translate(500.3,63.2) scale(1,1.0)" font-size="21.6" text-anchor="start" letter-spacing="-0.035">Direct detection, theory</text>
<text transform="translate(500.3,103.2) scale(1,1.0)" font-size="21.6" text-anchor="start" letter-spacing="-0.03">Direct detection, experiment</text>
<text transform="translate(500.3,144.2) scale(1,1.0)" font-size="21.6" text-anchor="start" letter-spacing="0">Kennedy, theory</text>
<text transform="translate(500.3,186.2) scale(1,1.0)" font-size="21.6" text-anchor="start" letter-spacing="0">Kennedy, experiment</text>
<text transform="translate(500.3,226.7) scale(1,1.0)" font-size="21.6" text-anchor="start" letter-spacing="0.035">Generalized Kennedy, theory</text>
<text transform="translate(500.3,268.7) scale(1,1.0)" font-size="21.6" text-anchor="start" letter-spacing="0.035">Generalized Kennedy, experiment</text>
<text transform="translate(500.3,309.2) scale(1,1.0)" font-size="21.6" text-anchor="start" letter-spacing="0">Helstrom bound, theory</text>
<text transform="translate(64.5,274.2) scale(1,1.0)" font-size="21.6" text-anchor="end" >0.2</text>
<text transform="translate(64.5,214.4) scale(1,1.0)" font-size="21.6" text-anchor="end" >0.3</text>
<text transform="translate(64.5,154.6) scale(1,1.0)" font-size="21.6" text-anchor="end" >0.4</text>
<text transform="translate(64.5,94.8) scale(1,1.0)" font-size="21.6" text-anchor="end" >0.5</text>
<text transform="translate(64.5,35.0) scale(1,1.0)" font-size="21.6" text-anchor="end" >0.6</text>
<text transform="translate(65.4,327.2) scale(1,1.0)" font-size="21.6" text-anchor="end" >0.<tspan dx="0.9">1</tspan></text>
<text transform="translate(60.9,350) scale(1,1.0)" font-size="21.6">10<tspan font-size="13" dy="-7.2">-3</tspan></text>
<text transform="translate(183.9,350) scale(1,1.0)" font-size="21.6">10<tspan font-size="13" dy="-7.2">-2</tspan></text>
<text transform="translate(315.9,350) scale(1,1.0)" font-size="21.6">10<tspan font-size="13" dy="-7.2">-1</tspan></text>
<text transform="translate(444.4,350) scale(1,1.0)" font-size="21.6">10<tspan font-size="13" dy="-7.2">0</tspan></text>
<text transform="translate(155.3,371) scale(1,1.0)" font-size="21.6" text-anchor="start" >Mean photon number</text>
<text transform="translate(21,320.4) rotate(-90) scale(1,1.0)" font-size="21.6">Discrimination error probability</text>
</g>
<g filter="url(#thr)" fill="#262626" font-family="Liberation Sans, sans-serif" text-rendering="geometricPrecision">
<text transform="translate(172.4,273.8) skewX(-9)" font-size="18.5" font-style="italic">ρ</text>
<text x="183.6" y="280.4" font-size="11.5" font-weight="bold" stroke="#262626" stroke-width="0.25">L<tspan font-size="13" dx="0.3" dy="0.7">O</tspan></text>
</g>
<g>
<rect x="55" y="325" width="3" height="3" fill="#000" shape-rendering="crispEdges"/>
<rect x="61" y="325" width="4" height="3" fill="#000" shape-rendering="crispEdges"/>
<rect x="62" y="348" width="4" height="3" fill="#000" shape-rendering="crispEdges"/>
<rect x="69" y="348" width="3" height="3" fill="#000" shape-rendering="crispEdges"/>
<rect x="185" y="348" width="4" height="3" fill="#000" shape-rendering="crispEdges"/>
<rect x="192" y="348" width="3" height="3" fill="#000" shape-rendering="crispEdges"/>
<rect x="317" y="348" width="4" height="3" fill="#000" shape-rendering="crispEdges"/>
<rect x="324" y="348" width="3" height="3" fill="#000" shape-rendering="crispEdges"/>
<rect x="446" y="348" width="3" height="3" fill="#000" shape-rendering="crispEdges"/>
<rect x="452" y="348" width="4" height="3" fill="#000" shape-rendering="crispEdges"/>
<rect x="345" y="342" width="2" height="2" fill="#000" shape-rendering="crispEdges"/>
<rect x="349" y="342" width="3" height="2" fill="#000" shape-rendering="crispEdges"/>
</g>
</svg>
</body></html>
